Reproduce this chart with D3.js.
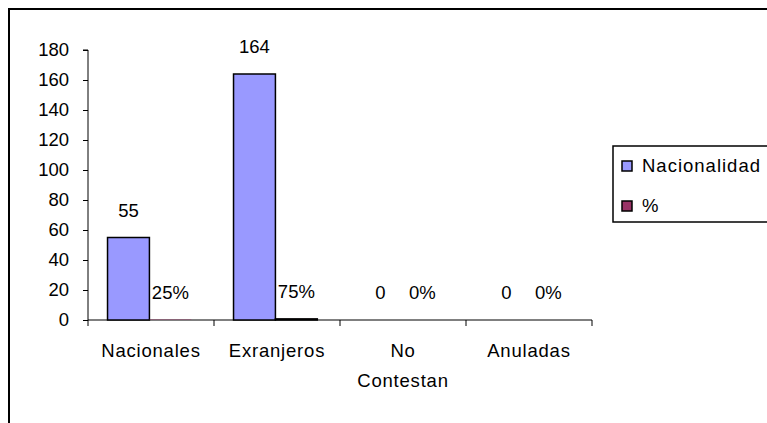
<!DOCTYPE html>
<html>
<head>
<meta charset="utf-8">
<script src="https://cdn.jsdelivr.net/npm/d3@7"></script>
<style>
  body { margin: 0; background: #fff; }
  svg text { font-family: "Liberation Sans", Arial, sans-serif; fill: #000; }
</style>
</head>
<body>
<svg id="chart" width="767" height="423"></svg>
<script>
// data
const categories = [["Nacionales"], ["Exranjeros"], ["No", "Contestan"], ["Anuladas"]]
const seriesNames = ["Nacionalidad", "%"]
const nacionalidad = [55, 164, 0, 0]
const porcentaje = [0.25, 0.75, 0, 0]
const yTicks = [0, 20, 40, 60, 80, 100, 120, 140, 160, 180]
const colors = ["#9999FF", "#993366"]

const svg = d3.select('#chart')

// outer chart border (runs off the right and bottom edge like the original)
svg.append('rect')
    .attr('x', 9).attr('y', 9)
    .attr('width', 800).attr('height', 440)
    .style('fill', 'none')
    .style('stroke', '#000')
    .style('stroke-width', 2)

const plotLeft = 88, plotRight = 592, plotTop = 50, plotBottom = 320

const x0 = d3.scaleBand()
    .domain(d3.range(categories.length))
    .range([plotLeft, plotRight])
    .padding(0)

const x1 = d3.scaleBand()
    .domain(seriesNames)
    .range([x0.bandwidth() * 0.155, x0.bandwidth() * 0.82])

const y = d3.scaleLinear().domain([0, 180]).range([plotBottom, plotTop])

// y axis
const yAxis = svg.append('g')
    .attr('transform', `translate(${plotLeft},0)`)
    .call(d3.axisLeft(y).tickValues(yTicks).tickSize(5).tickPadding(14))
yAxis.selectAll('text').style('font-size', '18.5px')
yAxis.select('.domain').attr('d', `M-5,${y(180)}H0V${plotBottom}`)

// x axis with ticks on the category boundaries
const xAxisG = svg.append('g').attr('transform', `translate(0,${plotBottom})`)
xAxisG.append('line')
    .attr('x1', plotLeft).attr('x2', plotRight)
    .style('stroke', '#000')
xAxisG.selectAll('line.tk')
    .data(d3.range(categories.length + 1))
    .enter()
    .append('line')
        .attr('class', 'tk')
        .attr('x1', i => plotLeft + i * x0.bandwidth())
        .attr('x2', i => plotLeft + i * x0.bandwidth())
        .attr('y1', 0).attr('y2', 6)
        .style('stroke', '#000')

// category labels (wrapped in lines)
const catLabels = svg.append('g')
    .selectAll('text')
    .data(categories)
    .enter()
    .append('text')
        .attr('x', (d, i) => x0(i) + x0.bandwidth() / 2)
        .attr('y', 357)
        .attr('text-anchor', 'middle')
        .style('font-size', '18.5px')
        .style('letter-spacing', '0.8px')
catLabels.selectAll('tspan')
    .data(d => d)
    .enter()
    .append('tspan')
        .attr('x', function() { return d3.select(this.parentNode).attr('x') })
        .attr('dy', (d, i) => i === 0 ? 0 : 30)
        .text(d => d)

// bars
const seriesData = [nacionalidad, porcentaje]
const fmt = [d => d, d3.format('.0%')]

seriesData.forEach((vals, s) => {
    const g = svg.append('g')
    g.selectAll('rect')
        .data(vals)
        .enter()
        .append('rect')
            .attr('x', (d, i) => x0(i) + x1(seriesNames[s]))
            .attr('y', d => y(d))
            .attr('width', x1.bandwidth())
            .attr('height', d => plotBottom - y(d))
            .style('fill', colors[s])
            .style('stroke', d => plotBottom - y(d) >= 1 ? '#000' : 'none')
            .style('stroke-width', 1.5)

    g.selectAll('text')
        .data(vals)
        .enter()
        .append('text')
            .attr('x', (d, i) => x0(i) + x1(seriesNames[s]) + x1.bandwidth() / 2)
            .attr('y', d => y(d) - 21)
            .attr('text-anchor', 'middle')
            .style('font-size', '18.5px')
            .text(d => fmt[s](d))
})

// legend
const legend = svg.append('g')
legend.append('rect')
    .attr('x', 613).attr('y', 146)
    .attr('width', 200).attr('height', 76)
    .style('fill', '#fff')
    .style('stroke', '#000')
    .style('stroke-width', 1.5)

const items = legend.selectAll('g.item')
    .data(seriesNames)
    .enter()
    .append('g')
        .attr('class', 'item')
        .attr('transform', (d, i) => `translate(622,${161 + i * 40})`)
items.append('rect')
    .attr('width', 10).attr('height', 10)
    .style('fill', (d, i) => colors[i])
    .style('stroke', '#000')
    .style('stroke-width', 1.5)
items.append('text')
    .attr('x', 20).attr('y', 11)
    .style('font-size', '18.5px')
    .style('letter-spacing', '1px')
    .text(d => d)
</script>
</body>
</html>
